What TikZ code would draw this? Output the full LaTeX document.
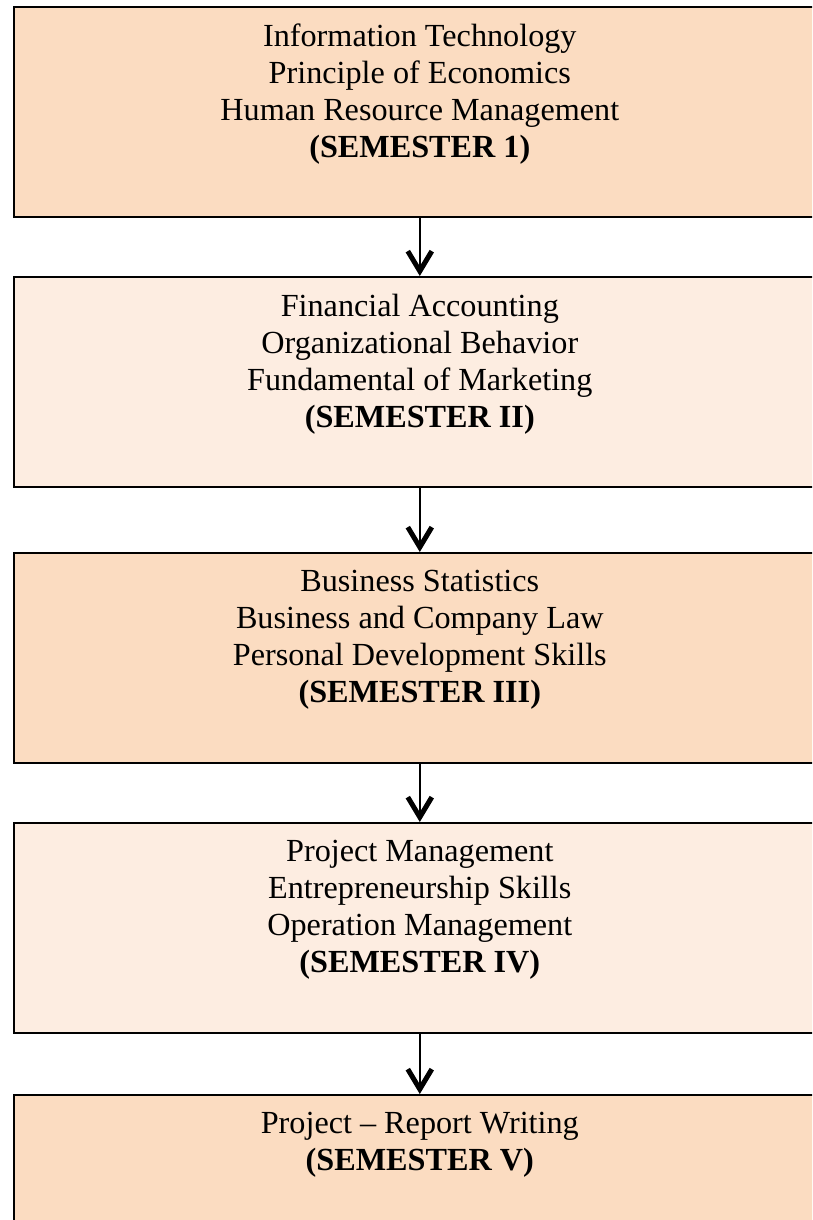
\documentclass[tikz,border=0pt]{standalone}
\usepackage{fontspec}
\setmainfont{Liberation Serif}
\usetikzlibrary{arrows.meta}
\definecolor{peachD}{HTML}{FBDCC1}
\definecolor{peachL}{HTML}{FDEDE1}
\begin{document}
\begin{tikzpicture}[x=1pt,y=-1pt,
  box/.style={draw=black, line width=1.6pt, minimum width=812pt, minimum height=210pt, anchor=north west, inner sep=0pt},
  txt/.style={anchor=north, align=center, font=\fontsize{32.2}{37}\selectfont, inner sep=0pt},
  flow/.style={line width=2pt, -{Straight Barb[length=20pt,width=24pt,line width=5pt]}}]
\useasboundingbox (0,0) rectangle (812,1220);
\clip (0,0) rectangle (812,1220);
\node[box, fill=peachD] (b1) at (13,6) {};
\node[box, fill=peachL] (b2) at (13,276) {};
\node[box, fill=peachD] (b3) at (13,552) {};
\node[box, fill=peachL] (b4) at (13,822) {};
\node[box, fill=peachD] (b5) at (13,1094) {};
\node[txt] (t1) at ([yshift=-18pt]b1.north) {Information Technology\\Principle of Economics\\Human Resource Management\\\textbf{(SEMESTER 1)}};
\node[txt] (t2) at ([yshift=-18pt]b2.north) {Financial Accounting\\Organizational Behavior\\Fundamental of Marketing\\\textbf{(SEMESTER II)}};
\node[txt] (t3) at ([yshift=-18pt]b3.north) {Business Statistics\\Business and Company Law\\Personal Development Skills\\\textbf{(SEMESTER III)}};
\node[txt] (t4) at ([yshift=-18pt]b4.north) {Project Management\\Entrepreneurship Skills\\Operation Management\\\textbf{(SEMESTER IV)}};
\node[txt] (t5) at ([yshift=-18pt]b5.north) {Project – Report Writing\\\textbf{(SEMESTER V)}};
\draw[flow] (b1.south) -- (b2.north);
\draw[flow] (b2.south) -- (b3.north);
\draw[flow] (b3.south) -- (b4.north);
\draw[flow] (b4.south) -- (b5.north);
\end{tikzpicture}
\end{document}
